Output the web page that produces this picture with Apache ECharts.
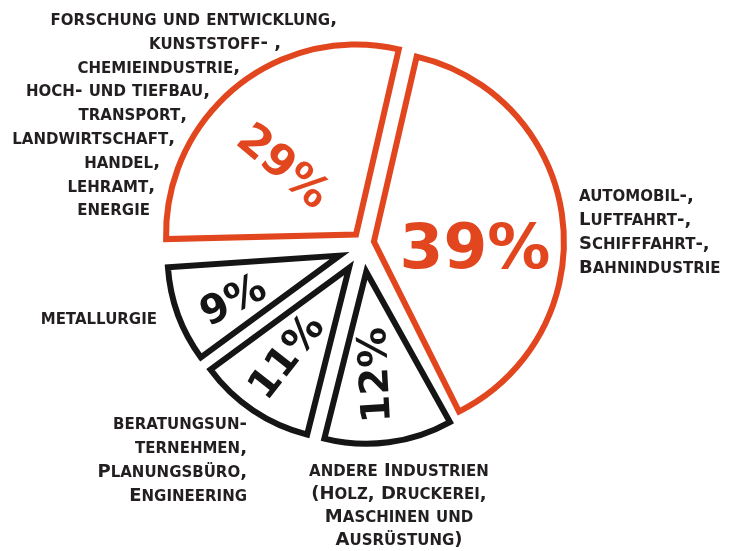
<!DOCTYPE html>
<html><head><meta charset="utf-8">
<script src="https://cdn.jsdelivr.net/npm/echarts@6/dist/echarts.min.js"></script>
<style>html,body{margin:0;padding:0;background:#fff}#c{width:749px;height:551px}</style>
</head><body><div id="c"></div>
<script>
// ---- data ----
const categories = [
  'automobil-,\nLuftfahrt-,\nSchifffahrt-,\nBahnindustrie',
  'andere Industrien\n(Holz, Druckerei,\nMaschinen und\nAusrüstung)',
  'beratungsun-\nternehmen,\nPlanungsbüro,\nEngineering',
  'metallurgie',
  'forschung und entwicklung,\nkunststoff- ,\nchemieindustrie,\nhoch- und tiefbau,\ntransport,\nlandwirtschaft,\nhandel,\nlehramt,\nenergie'
];
const values = [39, 12, 11, 9, 29];
const highlighted = [true, false, false, false, true]; // orange (large) slices

// ---- styles / layout ----
const ORANGE = '#e1461f';
const BLACK = '#151515';
const TEXT = '#231f20';
const pctStyle = [
  {pos: [475, 252], rot: 0, size: 63},
  {pos: [377, 375], rot: 93, size: 40},
  {pos: [288, 358], rot: 52, size: 40},
  {pos: [234, 302], rot: 27, size: 40},
  {pos: [282, 168], rot: -40, size: 44}
];
const nameStyle = [
  {pos: [579, 229], align: 'left', lh: 24},
  {pos: [399, 503], align: 'center', lh: 23},
  {pos: [247, 457], align: 'right', lh: 24},
  {pos: [157, 316], align: 'right', lh: 24},
  {pos: [337, 112], align: 'right', lh: 23.8}
];
const linePads = [0, 56, 97, 127, 150, 162, 177, 182, 187];
const groupGeom = {
  big:   {center: [363, 243], radius: 190, start: 77, offset: 11},
  small: {center: [363, 247], radius: 172, start: 79.5, offset: 25}
};

function sliceSeries(isBig) {
  const g = isBig ? groupGeom.big : groupGeom.small;
  const col = isBig ? ORANGE : BLACK;
  return {
    type: 'pie',
    center: g.center,
    radius: g.radius,
    startAngle: g.start,
    clockwise: true,
    selectedMode: 'multiple',
    selectedOffset: g.offset,
    avoidLabelOverlap: false,
    animation: false,
    silent: true,
    emphasis: {disabled: true},
    label: {show: false},
    labelLine: {show: false},
    data: values.map((v, i) => {
      const mine = highlighted[i] === isBig;
      return {
        value: v,
        name: String(i),
        selected: mine,
        itemStyle: mine
          ? {color: '#fff', borderColor: col, borderWidth: 6, borderJoin: 'miter', borderMiterLimit: 10}
          : {color: 'rgba(0,0,0,0)', borderWidth: 0}
      };
    })
  };
}

// percentage labels
const pctSeries = {
  type: 'pie',
  center: groupGeom.big.center,
  radius: groupGeom.big.radius,
  startAngle: groupGeom.big.start,
  animation: false,
  silent: true,
  emphasis: {disabled: true},
  avoidLabelOverlap: false,
  itemStyle: {color: 'rgba(0,0,0,0)', borderWidth: 0},
  labelLine: {show: false},
  data: values.map((v, i) => ({
    value: v, name: 'p' + i,
    label: {show: true, position: 'outside', formatter: '{c}%',
      color: highlighted[i] ? ORANGE : BLACK,
      fontFamily: 'DejaVu Sans', fontWeight: 'bold', fontSize: pctStyle[i].size,
      align: 'center', verticalAlign: 'middle'}
  })),
  labelLayout: function (p) {
    const s = pctStyle[p.dataIndex];
    return {x: s.pos[0], y: s.pos[1], align: 'center', verticalAlign: 'middle', rotate: s.rot};
  }
};

// small-caps rendering of category names
function smallCaps(line) {
  let out = '';
  line.replace(/([a-zäöü]+)|([^a-zäöü]+)/g, function (m, lo, other) {
    out += lo ? '{sc|' + lo.toUpperCase() + '}' : '{cp|' + other + '}';
    return m;
  });
  return out;
}
function richFor(lh) {
  const r = {
    sc: {fontSize: 15, lineHeight: lh, verticalAlign: 'bottom'},
    cp: {fontSize: 18, lineHeight: lh, verticalAlign: 'bottom'}
  };
  linePads.forEach((p, k) => { r['pad' + k] = {width: p, fontSize: 18, lineHeight: lh, verticalAlign: 'bottom'}; });
  return r;
}

const namesSeries = {
  type: 'pie',
  center: groupGeom.big.center,
  radius: groupGeom.big.radius,
  startAngle: groupGeom.big.start,
  animation: false,
  silent: true,
  emphasis: {disabled: true},
  avoidLabelOverlap: false,
  itemStyle: {color: 'rgba(0,0,0,0)', borderWidth: 0},
  labelLine: {show: false},
  label: {
    show: true,
    position: 'outside',
    color: TEXT,
    fontFamily: 'DejaVu Sans',
    fontWeight: 'bold',
    fontSize: 18,
    formatter: function (p) {
      const lines = categories[p.dataIndex].split('\n');
      return lines.map((t, k) => {
        let s = smallCaps(t);
        if (p.dataIndex === 4 && linePads[k] > 0) s += '{pad' + k + '| }';
        return s;
      }).join('\n');
    }
  },
  data: values.map((v, i) => ({value: v, name: 'n' + i,
    label: {align: nameStyle[i].align, lineHeight: nameStyle[i].lh, rich: richFor(nameStyle[i].lh)}})),
  labelLayout: function (p) {
    const s = nameStyle[p.dataIndex];
    return {x: s.pos[0], y: s.pos[1], align: s.align, verticalAlign: 'middle'};
  }
};

const chart = echarts.init(document.getElementById('c'), null, {renderer: 'canvas'});
chart.setOption({
  backgroundColor: '#fff',
  animation: false,
  series: [sliceSeries(true), sliceSeries(false), pctSeries, namesSeries]
});
</script>
</body></html>
